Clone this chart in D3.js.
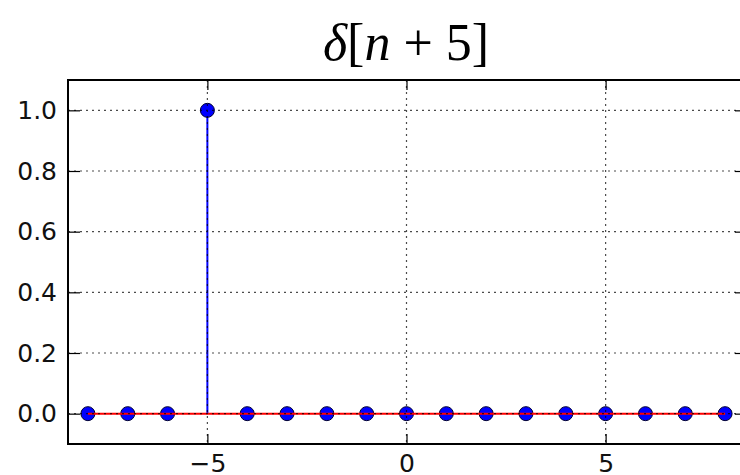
<!DOCTYPE html>
<html>
<head>
<meta charset="utf-8">
<script src="https://cdn.jsdelivr.net/npm/d3@7"></script>
<style>
  html, body { margin: 0; padding: 0; background: #fff; }
  svg { display: block; }
</style>
</head>
<body>
<svg id="chart" width="740" height="475"></svg>
<script>
// Shifted unit impulse delta[n+5], sampled on n = -8 .. 8
const sampleIndex = [-8, -7, -6, -5, -4, -3, -2, -1, 0, 1, 2, 3, 4, 5, 6, 7, 8];
const sampleValue = [0, 0, 0, 1, 0, 0, 0, 0, 0, 0, 0, 0, 0, 0, 0, 0, 0];
const xTickValues = [-5, 0, 5];
const yTickValues = [0.0, 0.2, 0.4, 0.6, 0.8, 1.0];
const xDomain = [-8.5, 8.5];
const yDomain = [-0.1, 1.1];

const svg = d3.select("#chart");
const plot = { left: 68, right: 745, top: 80, bottom: 444 };

const x = d3.scaleLinear().domain(xDomain).range([plot.left, plot.right]);
const y = d3.scaleLinear().domain(yDomain).range([plot.bottom, plot.top]);

const tickFont = "'DejaVu Sans', sans-serif";
const fmtY = d3.format(".1f");
const fmtX = v => (v < 0 ? "\u2212" + Math.abs(v) : String(v));

const data = sampleIndex.map((n, i) => ({ n, v: sampleValue[i] }));

svg.append("defs").append("clipPath").attr("id", "plotClip")
  .append("rect")
  .attr("x", plot.left).attr("y", plot.top)
  .attr("width", plot.right - plot.left).attr("height", plot.bottom - plot.top);

const inner = svg.append("g").attr("clip-path", "url(#plotClip)");

// stems
inner.append("g").selectAll("line").data(data).join("line")
  .attr("x1", d => x(d.n)).attr("x2", d => x(d.n))
  .attr("y1", y(0)).attr("y2", d => y(d.v))
  .attr("stroke", "#0000ff").attr("stroke-width", 2);

// marker heads
inner.append("g").selectAll("circle").data(data).join("circle")
  .attr("cx", d => x(d.n)).attr("cy", d => y(d.v)).attr("r", 7)
  .attr("fill", "#0000ff").attr("stroke", "#000033").attr("stroke-width", 1);

// baseline
inner.append("line")
  .attr("x1", x(sampleIndex[0])).attr("x2", x(sampleIndex[sampleIndex.length - 1]))
  .attr("y1", y(0)).attr("y2", y(0))
  .attr("stroke", "#ff0000").attr("stroke-width", 2);

// dotted grid
const grid = inner.append("g").attr("stroke", "#000").attr("stroke-width", 1.2)
  .attr("stroke-dasharray", "2,4").attr("opacity", 0.7);
grid.selectAll("line.gx").data(xTickValues).join("line").attr("class", "gx")
  .attr("x1", d => x(d)).attr("x2", d => x(d))
  .attr("y1", plot.top).attr("y2", plot.bottom);
grid.selectAll("line.gy").data(yTickValues).join("line").attr("class", "gy")
  .attr("x1", plot.left).attr("x2", plot.right)
  .attr("y1", d => y(d)).attr("y2", d => y(d));

// axes with inward ticks on all four sides
function styleAxis(g) {
  g.select(".domain").remove();
  g.selectAll(".tick line").attr("stroke", "#000").attr("stroke-width", 1.2);
  g.selectAll(".tick text").attr("fill", "#111")
    .style("font-family", tickFont).style("font-size", "25px");
}

svg.append("g").attr("transform", `translate(0,${plot.bottom})`)
  .call(d3.axisBottom(x).tickValues(xTickValues).tickFormat(fmtX).tickSizeInner(-10).tickPadding(10))
  .call(styleAxis);
svg.append("g").attr("transform", `translate(0,${plot.top})`)
  .call(d3.axisTop(x).tickValues(xTickValues).tickFormat("").tickSizeInner(-10))
  .call(styleAxis);
svg.append("g").attr("transform", `translate(${plot.left},0)`)
  .call(d3.axisLeft(y).tickValues(yTickValues).tickFormat(fmtY).tickSizeInner(-12).tickPadding(11))
  .call(styleAxis);
svg.append("g").attr("transform", `translate(${plot.right},0)`)
  .call(d3.axisRight(y).tickValues(yTickValues).tickFormat("").tickSizeInner(-10))
  .call(styleAxis);

// frame
svg.append("rect")
  .attr("x", plot.left).attr("y", plot.top)
  .attr("width", plot.right - plot.left).attr("height", plot.bottom - plot.top)
  .attr("fill", "none").attr("stroke", "#000").attr("stroke-width", 2);

// title: delta[n + 5]
const title = svg.append("text")
  .attr("x", 406).attr("y", 60)
  .attr("text-anchor", "middle")
  .style("font-family", "'Liberation Serif', serif")
  .style("font-size", "52px").attr("fill", "#000");
title.append("tspan").style("font-style", "italic").text("\u03b4");
title.append("tspan").text("[");
title.append("tspan").style("font-style", "italic").text("n");
title.append("tspan").attr("dx", 13).text("+");
title.append("tspan").attr("dx", 13).text("5]");
</script>
</body>
</html>
